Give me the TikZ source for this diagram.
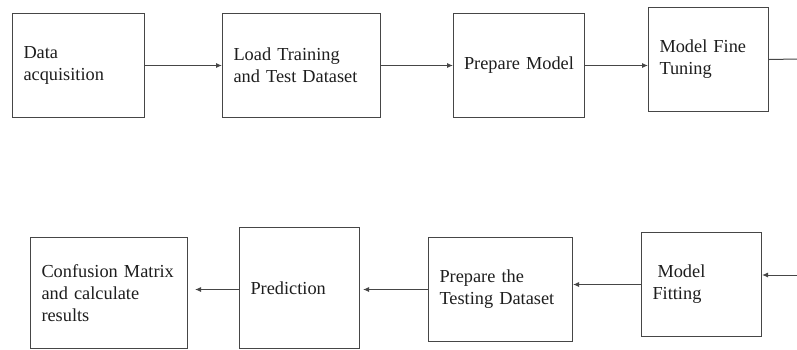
\documentclass[tikz,border=0pt]{standalone}
\usepackage{fontspec}
\setmainfont{Liberation Serif}
\usetikzlibrary{arrows.meta}
\definecolor{linec}{RGB}{70,70,70}
\definecolor{textc}{RGB}{30,30,30}
\begin{document}
\begin{tikzpicture}[x=1bp,y=-1bp,
  box/.style={draw=linec, line width=1bp, inner xsep=11bp, inner ysep=0pt,
    anchor=north west, align=left, text=textc,
    font=\fontsize{18.4}{22}\selectfont},
  conn/.style={draw=linec, line width=1bp},
  arr/.style={conn, -{Latex[length=6bp,width=5bp]}}]
\useasboundingbox[fill=white] (0,0) rectangle (797,349);
% top row
\node[box, text width=110bp, minimum height=104bp] (b1) at (12,13) {Data\\acquisition};
\node[box, text width=136bp, minimum height=104bp] (b2) at (222,13) {Load Training\\and Test Dataset};
\node[box, inner xsep=0pt, text width=131bp, minimum height=104bp, align=center] (b3) at (453,13) {Prepare Model};
\node[box, text width=98bp, minimum height=104bp] (b4) at (648,7) {Model Fine\\Tuning};
% bottom row
\node[box, text width=135bp, minimum height=111bp] (cm) at (30,237) {Confusion Matrix\\and calculate\\results};
\node[box, text width=98bp, minimum height=121bp] (pr) at (239,227) {Prediction};
\node[box, text width=122bp, minimum height=104bp] (pt) at (428,237) {Prepare the\\Testing Dataset};
\node[box, text width=98bp, minimum height=104bp] (mf) at (641,232) {\hspace*{5bp}Model\\Fitting};
% free ends
\coordinate (e1) at (797,59);
\coordinate (e2) at (797,275);
% connectors
\draw[arr] (b1.east) -- (b2.west);
\draw[arr] (b2.east) -- (b3.west);
\draw[arr] (b3.east) -- (b3.east -| b4.west);
\draw[conn] (b4.east) -- (e1);
\draw[arr] (e2) -- (e2 -| mf.east);
\draw[arr] (mf.west) -- (mf.west -| pt.east);
\draw[arr, shorten >=3bp] (pt.west) -- (pt.west -| pr.east);
\draw[arr, shorten >=7bp] (pt.west -| pr.west) -- (pt.west -| cm.east);
\end{tikzpicture}
\end{document}
